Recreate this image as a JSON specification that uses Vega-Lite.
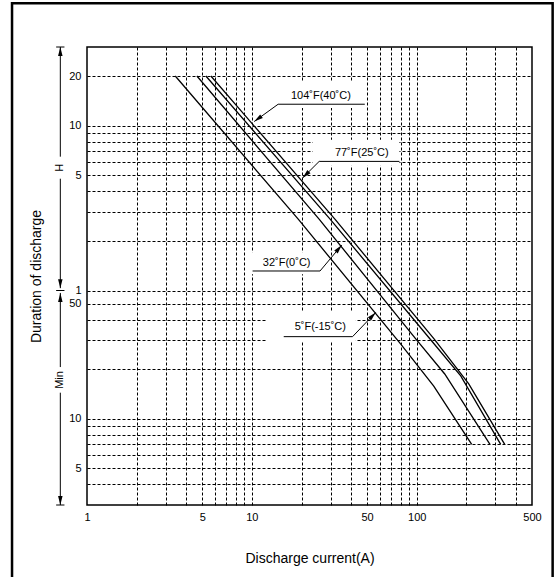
{
  "$schema": "https://vega.github.io/schema/vega-lite/v6.json",
  "width": 445,
  "height": 458,
  "padding": {"left": 10, "top": 2, "right": 0, "bottom": 0},
  "autosize": {"type": "pad"},
  "background": "white",
  "config": {
    "font": "Liberation Sans",
    "view": {"stroke": "black", "strokeWidth": 1.5},
    "axis": {
      "domain": false,
      "ticks": false,
      "labelFont": "Liberation Sans",
      "labelFontSize": 11,
      "labelColor": "black",
      "labelPadding": 6,
      "titleFont": "Liberation Sans",
      "titleFontSize": 14,
      "titleFontWeight": "normal",
      "titleColor": "black",
      "gridColor": "black",
      "gridDash": [3, 2],
      "gridWidth": 1
    }
  },
  "datasets": {
    "curves": [
      {"temp": "5F", "current": 3.43, "minutes": 1200},
      {"temp": "5F", "current": 19.16, "minutes": 161.9},
      {"temp": "5F", "current": 80.0, "minutes": 28.4},
      {"temp": "5F", "current": 126.8, "minutes": 15.8},
      {"temp": "5F", "current": 215.4, "minutes": 7},
      {"temp": "32F", "current": 4.64, "minutes": 1200},
      {"temp": "32F", "current": 25.65, "minutes": 161.9},
      {"temp": "32F", "current": 98.6, "minutes": 30.5},
      {"temp": "32F", "current": 147.8, "minutes": 18.7},
      {"temp": "32F", "current": 278, "minutes": 7},
      {"temp": "77F", "current": 5.26, "minutes": 1200},
      {"temp": "77F", "current": 29.9, "minutes": 161.9},
      {"temp": "77F", "current": 120.4, "minutes": 30.5},
      {"temp": "77F", "current": 184.8, "minutes": 18.2},
      {"temp": "77F", "current": 323, "minutes": 7},
      {"temp": "104F", "current": 5.64, "minutes": 1200},
      {"temp": "104F", "current": 31.98, "minutes": 161.9},
      {"temp": "104F", "current": 127.3, "minutes": 30.5},
      {"temp": "104F", "current": 206.7, "minutes": 16.3},
      {"temp": "104F", "current": 341.6, "minutes": 7}
    ],
    "labels": [
      {"id": 104, "label": "104˚F(40˚C)", "tx": 26.2, "ty": 908.6, "ux1": 14.43, "ux2": 48.4, "uy": 809.4, "lx": 14.43, "ly": 809.4, "ax": 10.33, "ay": 635.4, "bx1": 14.4, "bx2": 48.6, "by1": 1104, "by2": 768.6},
      {"id": 77, "label": "77˚F(25˚C)", "tx": 46.4, "ty": 411, "ux1": 25.6, "ux2": 78.5, "uy": 364.2, "lx": 25.6, "ly": 364.2, "ax": 20.3, "ay": 289, "bx1": 23.4, "bx2": 78.5, "by1": 492.6, "by2": 343.1},
      {"id": 32, "label": "32˚F(0˚C)", "tx": 16.25, "ty": 88.6, "ux1": 10.1, "ux2": 25.9, "uy": 78.8, "lx": 25.9, "ly": 78.8, "ax": 35.1, "ay": 113.2, "bx1": 9.59, "bx2": 26.57, "by1": 102.3, "by2": 75.3},
      {"id": 5, "label": "5˚F(-15˚C)", "tx": 26.0, "ty": 36.0, "ux1": 15.6, "ux2": 40.8, "uy": 31.5, "lx": 40.8, "ly": 31.5, "ax": 56.4, "ay": 44.2, "bx1": 12.33, "bx2": 42.7, "by1": 44.4, "by2": 29.2}
    ],
    "span_lines": [
      {"t1": 1800, "t2": 389},
      {"t1": 286, "t2": 62},
      {"t1": 58, "t2": 20.6},
      {"t1": 14.4, "t2": 3}
    ],
    "span_arrows": [
      {"t": 1800, "dir": "up"},
      {"t": 62, "dir": "down"},
      {"t": 58, "dir": "up"},
      {"t": 3, "dir": "down"}
    ],
    "span_caps": [{"t": 1800}, {"t": 60}, {"t": 3}],
    "span_text": [
      {"name": "H", "t": 333.6},
      {"name": "Min", "t": 17.2}
    ]
  },
  "layer": [
    {
      "data": {"name": "curves"},
      "mark": {"type": "line", "color": "black", "strokeWidth": 1.3},
      "encoding": {
        "x": {
          "field": "current",
          "type": "quantitative",
          "scale": {"type": "log", "domain": [1, 500], "nice": false},
          "axis": {
            "title": "Discharge current(A)",
            "values": [1, 2, 3, 4, 5, 6, 7, 8, 9, 10, 20, 30, 40, 50, 60, 70, 80, 90, 100, 200, 300, 400, 500],
            "labelExpr": "indexof([1, 5, 10, 50, 100, 500], datum.value) >= 0 ? format(datum.value, 'd') : ''",
            "gridOpacity": {"condition": {"test": "datum.value == 1 || datum.value == 500", "value": 0}, "value": 1},
            "labelFlush": false,
            "labelOverlap": false,
            "titlePadding": 29
          }
        },
        "y": {
          "field": "minutes",
          "type": "quantitative",
          "scale": {"type": "log", "domain": [3, 1800], "nice": false},
          "axis": {
            "title": "Duration of discharge",
            "values": [3, 4, 5, 6, 7, 8, 9, 10, 20, 30, 40, 50, 60, 120, 180, 240, 300, 360, 420, 480, 540, 600, 1200, 1800],
            "labelExpr": "datum.value == 1200 ? '20' : datum.value == 600 ? '10' : datum.value == 300 ? '5' : datum.value == 60 ? '1' : datum.value == 50 ? '50' : datum.value == 10 ? '10' : datum.value == 5 ? '5' : ''",
            "gridOpacity": {"condition": {"test": "datum.value == 3 || datum.value == 1800", "value": 0}, "value": 1},
            "labelFlush": false,
            "labelOverlap": false,
            "titlePadding": 25
          }
        },
        "detail": {"field": "temp", "type": "nominal"}
      }
    },
    {
      "data": {"values": [{}]},
      "mark": {"type": "rect", "filled": false, "color": "black", "strokeWidth": 2.5},
      "encoding": {
        "x": {"datum": 0.351, "type": "quantitative", "scale": {"type": "log", "domain": [1, 500], "nice": false}},
        "x2": {"datum": 667},
        "y": {"datum": 3313, "type": "quantitative", "scale": {"type": "log", "domain": [3, 1800], "nice": false}},
        "y2": {"datum": 0.9}
      }
    },
    {
      "data": {"name": "labels"},
      "mark": {"type": "rect", "color": "white", "opacity": 1},
      "encoding": {
        "x": {"field": "bx1", "type": "quantitative", "scale": {"type": "log", "domain": [1, 500], "nice": false}},
        "x2": {"field": "bx2"},
        "y": {"field": "by1", "type": "quantitative", "scale": {"type": "log", "domain": [3, 1800], "nice": false}},
        "y2": {"field": "by2"}
      }
    },
    {
      "data": {"name": "labels"},
      "mark": {"type": "rule", "color": "black", "strokeWidth": 1},
      "encoding": {
        "x": {"field": "ux1", "type": "quantitative", "scale": {"type": "log", "domain": [1, 500], "nice": false}},
        "x2": {"field": "ux2"},
        "y": {"field": "uy", "type": "quantitative", "scale": {"type": "log", "domain": [3, 1800], "nice": false}}
      }
    },
    {
      "data": {"name": "labels"},
      "mark": {"type": "rule", "color": "black", "strokeWidth": 1},
      "encoding": {
        "x": {"field": "lx", "type": "quantitative", "scale": {"type": "log", "domain": [1, 500], "nice": false}},
        "x2": {"field": "ax"},
        "y": {"field": "ly", "type": "quantitative", "scale": {"type": "log", "domain": [3, 1800], "nice": false}},
        "y2": {"field": "ay"}
      }
    },
    {
      "data": {"name": "labels"},
      "mark": {"type": "point", "shape": "M0,0L0.25,1L-0.25,1Z", "filled": true, "color": "black", "opacity": 1, "size": 324, "strokeWidth": 0},
      "encoding": {
        "x": {"field": "ax", "type": "quantitative", "scale": {"type": "log", "domain": [1, 500], "nice": false}},
        "y": {"field": "ay", "type": "quantitative", "scale": {"type": "log", "domain": [3, 1800], "nice": false}},
        "angle": {
          "condition": [
            {"test": "datum.id == 104", "value": 234},
            {"test": "datum.id == 77", "value": 225},
            {"test": "datum.id == 32", "value": 40}
          ],
          "value": 44
        }
      }
    },
    {
      "data": {"name": "labels"},
      "mark": {"type": "text", "fontSize": 11, "font": "Liberation Sans", "color": "black", "align": "center", "baseline": "middle"},
      "encoding": {
        "x": {"field": "tx", "type": "quantitative", "scale": {"type": "log", "domain": [1, 500], "nice": false}},
        "y": {"field": "ty", "type": "quantitative", "scale": {"type": "log", "domain": [3, 1800], "nice": false}},
        "text": {"field": "label", "type": "nominal"}
      }
    },
    {
      "data": {"name": "span_lines"},
      "mark": {"type": "rule", "color": "black", "strokeWidth": 1},
      "encoding": {
        "x": {"datum": 0.689, "type": "quantitative", "scale": {"type": "log", "domain": [1, 500], "nice": false}},
        "y": {"field": "t1", "type": "quantitative", "scale": {"type": "log", "domain": [3, 1800], "nice": false}},
        "y2": {"field": "t2"}
      }
    },
    {
      "data": {"name": "span_caps"},
      "mark": {"type": "rule", "color": "black", "strokeWidth": 1},
      "encoding": {
        "x": {"datum": 0.65, "type": "quantitative", "scale": {"type": "log", "domain": [1, 500], "nice": false}},
        "x2": {"datum": 0.73},
        "y": {"field": "t", "type": "quantitative", "scale": {"type": "log", "domain": [3, 1800], "nice": false}}
      }
    },
    {
      "data": {"name": "span_arrows"},
      "mark": {"type": "point", "shape": "M0,0L0.25,1L-0.25,1Z", "filled": true, "color": "black", "opacity": 1, "size": 324, "strokeWidth": 0},
      "encoding": {
        "x": {"datum": 0.689, "type": "quantitative", "scale": {"type": "log", "domain": [1, 500], "nice": false}},
        "y": {"field": "t", "type": "quantitative", "scale": {"type": "log", "domain": [3, 1800], "nice": false}},
        "angle": {"condition": {"test": "datum.dir == 'down'", "value": 180}, "value": 0}
      }
    },
    {
      "data": {"name": "span_text"},
      "mark": {"type": "text", "fontSize": 11, "font": "Liberation Sans", "color": "black", "align": "center", "baseline": "middle", "angle": 270},
      "encoding": {
        "x": {"datum": 0.689, "type": "quantitative", "scale": {"type": "log", "domain": [1, 500], "nice": false}},
        "y": {"field": "t", "type": "quantitative", "scale": {"type": "log", "domain": [3, 1800], "nice": false}},
        "text": {"field": "name", "type": "nominal"}
      }
    }
  ]
}
